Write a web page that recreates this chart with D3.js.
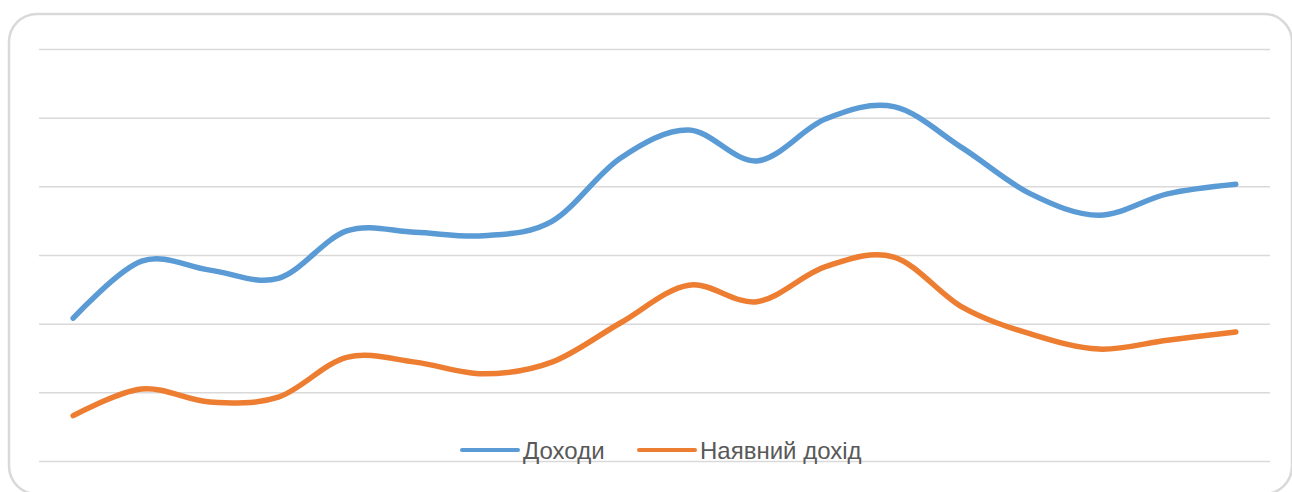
<!DOCTYPE html>
<html>
<head>
<meta charset="utf-8">
<script src="https://cdn.jsdelivr.net/npm/d3@7"></script>
<style>
  body { margin: 0; background: #fff; }
  svg { display: block; }
</style>
</head>
<body>
<svg id="chart" width="1292" height="492"></svg>
<script>
const categories = ["1", "2", "3", "4", "5", "6", "7", "8", "9", "10", "11", "12", "13", "14", "15", "16", "17", "18"];

const incomes = [2.08, 2.91, 2.78, 2.66, 3.35, 3.33, 3.28, 3.49, 4.41, 4.82, 4.37, 4.98, 5.16, 4.56, 3.89, 3.58, 3.89, 4.03];
const disposable = [0.66, 1.05, 0.86, 0.93, 1.51, 1.44, 1.27, 1.44, 2.01, 2.56, 2.32, 2.83, 2.97, 2.24, 1.85, 1.63, 1.76, 1.88];

const seriesNames = ["Доходи", "Наявний дохід"];
const seriesColors = ["#5B9BD5", "#ED7D31"];
const gridTicks = [0, 1, 2, 3, 4, 5, 6];

const svg = d3.select("#chart");

// frame
svg.append("rect")
    .attr("x", 9)
    .attr("y", 14)
    .attr("width", 1283)
    .attr("height", 480)
    .attr("rx", 28)
    .attr("fill", "#fff")
    .attr("stroke", "#d9d9d9")
    .attr("stroke-width", 2.5);

const xScale = d3.scaleBand(categories, [39, 1270]);
const yScale = d3.scaleLinear([0, 6], [461, 49]);

const yGrid = d3.axisLeft(yScale)
                .tickValues(gridTicks)
                .tickSize(-(1270 - 39))
                .tickFormat("");

svg.append("g")
    .attr("transform", "translate(39, 0)")
    .call(yGrid)
    .call(g => g.select(".domain").remove())
    .selectAll("line")
    .attr("stroke", "#d9d9d9")
    .attr("stroke-width", 1.5);

const lineMaker = d3.line()
                    .x((d, i) => xScale(categories[i]) + xScale.bandwidth() / 2)
                    .y(d => yScale(d))
                    .curve(d3.curveCardinal.tension(0));

[incomes, disposable].forEach((values, i) => {
    svg.append("path")
        .datum(values)
        .attr("d", lineMaker)
        .attr("fill", "none")
        .attr("stroke", seriesColors[i])
        .attr("stroke-width", 5.5)
        .attr("stroke-linecap", "round")
        .attr("stroke-linejoin", "round");
});

// legend
const legendX = [462, 639];
const legend = svg.append("g");

seriesNames.forEach((name, i) => {
    legend.append("line")
        .attr("x1", legendX[i])
        .attr("x2", legendX[i] + 56)
        .attr("y1", 450)
        .attr("y2", 450)
        .attr("stroke", seriesColors[i])
        .attr("stroke-width", 4)
        .attr("stroke-linecap", "round");

    legend.append("text")
        .attr("x", legendX[i] + 61)
        .attr("y", 459)
        .attr("font-family", "Liberation Sans, Arial, sans-serif")
        .attr("font-size", "24px")
        .attr("fill", "#595959")
        .text(name);
});
</script>
</body>
</html>
